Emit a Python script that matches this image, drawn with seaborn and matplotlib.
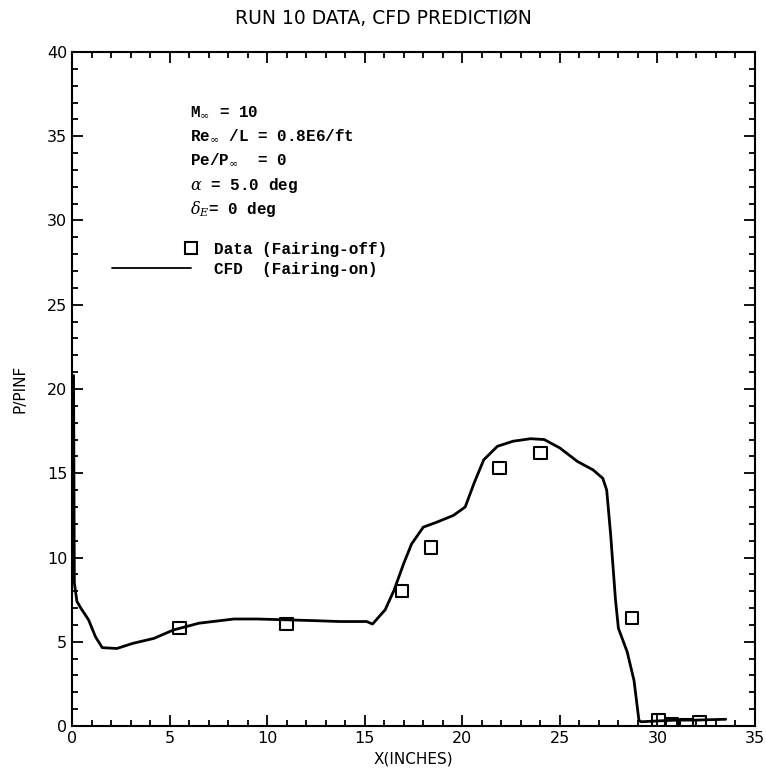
import matplotlib
matplotlib.use("Agg")
import matplotlib.pyplot as plt
from matplotlib.lines import Line2D
from matplotlib.legend_handler import HandlerLine2D
from matplotlib.ticker import MultipleLocator
import seaborn as sns
import pandas as pd

# ---- data ----
data_x = [5.5, 11.0, 16.9, 18.4, 21.9, 24.0, 28.7, 30.05, 30.75, 31.5, 32.15]
data_y = [5.8, 6.05, 8.0, 10.6, 15.3, 16.2, 6.4, 0.35, 0.1, 0.06, 0.2]

cfd_x = [0.08, 0.12, 0.25, 0.45, 0.85, 1.2, 1.55, 2.3, 3.1, 4.2, 5.2, 6.5, 8.3,
         9.5, 11.0, 12.5, 13.7, 15.1, 15.4, 16.05, 16.5, 17.0, 17.4, 18.0, 18.7,
         19.55, 20.15, 20.6, 21.1, 21.8, 22.6, 23.5, 24.2, 25.0, 25.9, 26.7, 27.2,
         27.4, 27.6, 27.85, 28.0, 28.45, 28.8, 29.05, 29.15, 30.0, 31.0, 32.0, 33.5]
cfd_y = [20.8, 8.5, 7.4, 7.0, 6.3, 5.3, 4.65, 4.6, 4.9, 5.2, 5.7, 6.1, 6.35,
         6.35, 6.3, 6.25, 6.2, 6.2, 6.05, 6.9, 8.05, 9.65, 10.8, 11.8, 12.1,
         12.5, 13.0, 14.4, 15.8, 16.6, 16.9, 17.05, 17.0, 16.5, 15.7, 15.2, 14.7,
         14.0, 11.4, 7.5, 5.8, 4.4, 2.7, 0.35, 0.25, 0.3, 0.35, 0.35, 0.4]

x_ticks = [0, 5, 10, 15, 20, 25, 30, 35]
y_ticks = [0, 5, 10, 15, 20, 25, 30, 35, 40]

title = "RUN 10 DATA, CFD PREDICTI\u00d8N"
xlabel = "X(INCHES)"
ylabel = "P/PINF"
annot = [r"M$_{\infty}$ = 10",
         r"Re$_{\infty}$ /L = 0.8E6/ft",
         r"Pe/P$_{\infty}$  = 0",
         r"$\alpha$ = 5.0 deg",
         r"$\delta_E$= 0 deg"]
legend_labels = ["Data (Fairing-off)", "CFD  (Fairing-on)"]

# ---- plotting ----
sns.set_style("ticks")
plt.rcParams["font.family"] = ["DejaVu Sans"]
plt.rcParams["mathtext.fontset"] = "dejavuserif"
for k in ["text.color", "axes.labelcolor", "xtick.color", "ytick.color",
          "axes.edgecolor"]:
    plt.rcParams[k] = "black"


class RightMarkerHandler(HandlerLine2D):
    """Legend key with the marker placed near the right end of the key."""
    def create_artists(self, legend, orig_handle, xdescent, ydescent,
                       width, height, fontsize, trans):
        arts = super().create_artists(legend, orig_handle, xdescent, ydescent,
                                      width, height, fontsize, trans)
        for a in arts:
            n = len(a.get_xdata())
            a.set_markevery([n - 1])
        return arts


fig = plt.figure(figsize=(7.66, 7.76), dpi=100)
ax = fig.add_axes([72 / 766, 1 - 726 / 776, (755 - 72) / 766, (726 - 52) / 776])

cfd_df = pd.DataFrame({"x": cfd_x, "y": cfd_y})
dat_df = pd.DataFrame({"x": data_x, "y": data_y})

sns.lineplot(data=cfd_df, x="x", y="y", sort=False, estimator=None,
             color="black", linewidth=2.0, ax=ax, zorder=2)
sns.scatterplot(data=dat_df, x="x", y="y", marker="s", s=80,
                facecolor="none", edgecolor="black", linewidth=1.5, ax=ax, zorder=3)

ax.set_xlim(0, 35)
ax.set_ylim(0, 40)
ax.set_xticks(x_ticks)
ax.set_yticks(y_ticks)
ax.xaxis.set_minor_locator(MultipleLocator(1))
ax.yaxis.set_minor_locator(MultipleLocator(1))
ax.tick_params(which="both", direction="in", top=True, right=True,
               width=1.3, colors="black", labelsize=11.5)
ax.tick_params(which="major", length=8)
ax.tick_params(which="minor", length=4)
for sp in ax.spines.values():
    sp.set_linewidth(1.5)
    sp.set_color("black")

ax.set_xlabel(xlabel, fontsize=11, labelpad=4)
ax.set_ylabel(ylabel, fontsize=11, labelpad=14)
fig.text(0.5, 1 - 19 / 776, title, ha="center", va="center", fontsize=13.5)

# annotation block
mono = "Liberation Mono"
ys = [36.4, 35.0, 33.6, 32.1, 30.7]
for txt, yy in zip(annot, ys):
    ax.text(6.05, yy, txt, family=mono, fontsize=11.5, fontweight="bold",
            ha="left", va="center", color="black")

sq = Line2D([], [], linestyle="none", marker="s", markersize=9,
            markerfacecolor="none", markeredgecolor="black",
            markeredgewidth=1.5)
ln = Line2D([], [], color="black", linewidth=1.3)
leg = ax.legend([sq, ln], legend_labels, loc="upper left",
                bbox_to_anchor=(0.051, 0.718), frameon=False, numpoints=2,
                handlelength=5.6, handletextpad=1.1, labelspacing=0.3,
                borderpad=0, borderaxespad=0,
                handler_map={sq: RightMarkerHandler()},
                prop={"family": mono, "size": 11.5, "weight": "bold"})
for t in leg.get_texts():
    t.set_color("black")

fig.savefig("out.png", dpi=100)
